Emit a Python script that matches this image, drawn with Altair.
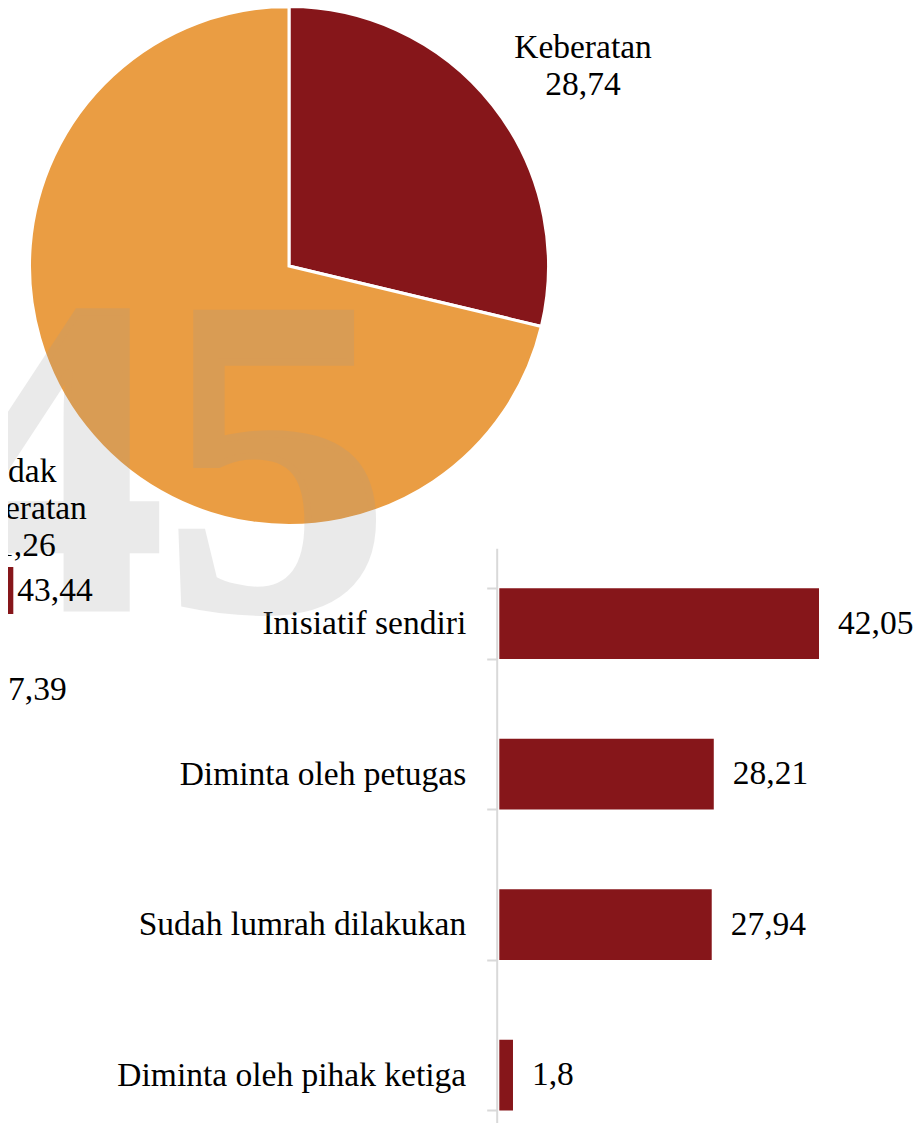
import altair as alt
import pandas as pd

# ---- data ----
pie_categories = ["Keberatan", "Tidak Keberatan"]
pie_values = [28.74, 71.26]
pie_colors = ["#86161A", "#EA9D43"]

bar_categories = ["Inisiatif sendiri", "Diminta oleh petugas",
                  "Sudah lumrah dilakukan", "Diminta oleh pihak ketiga"]
bar_values = [42.05, 28.21, 27.94, 1.8]

left_rows = [1, 2]
left_values = [43.44, 7.39]

watermark_text = ["45"]

RED = "#86161A"
FONT = "Liberation Serif"
FS = 33.5


def fmt(v):
    return str(v).replace(".", ",")


pie_df = pd.DataFrame({"kategori": pie_categories, "nilai": pie_values,
                       "urut": list(range(len(pie_values)))})
bar_df = pd.DataFrame({"alasan": bar_categories, "nilai": bar_values,
                       "label": [fmt(v) for v in bar_values]})
left_df = pd.DataFrame({"baris": left_rows, "nilai": left_values,
                        "label": [fmt(v) for v in left_values]})
wm_df = pd.DataFrame({"t": watermark_text})
lab_df = pd.DataFrame({
    "kategori": pie_categories,
    "teks": [pie_categories[0] + "\n" + fmt(pie_values[0]),
             "Tidak\nKeberatan\n" + fmt(pie_values[1])],
})

# ---- pie ----
pie = alt.Chart(pie_df).mark_arc(radius=259.5, stroke="white", strokeWidth=3).encode(
    theta=alt.Theta("nilai:Q", stack=True),
    color=alt.Color("kategori:N", scale=alt.Scale(domain=pie_categories, range=pie_colors), legend=None),
    order=alt.Order("urut:Q"),
    x=alt.value(281),
    y=alt.value(258),
)

# ---- left (cut-off) bar chart ----
lx = alt.X("nilai:Q", scale=alt.Scale(domain=[0, 50], range=[-5.9, 7.0]), axis=None)
ly = alt.Y("baris:O", scale=alt.Scale(domain=left_rows, range=[533, 731],
                                      paddingInner=0.525, paddingOuter=0.2626), axis=None)
left_bars = alt.Chart(left_df).mark_bar(color=RED).encode(x=lx, y=ly)
left_text = alt.Chart(left_df).mark_text(align="left", baseline="middle", dx=4,
                                         font=FONT, fontSize=FS, color="black").encode(
    x=lx, y=ly, text="label:N")

# ---- main bar chart ----
mx = alt.X("nilai:Q", scale=alt.Scale(domain=[0, 50], range=[491.3, 871.45]), axis=None)
yscale = alt.Scale(domain=bar_categories, range=[540.3, 1142.3],
                   paddingInner=0.53, paddingOuter=0.265)
my_axis = alt.Y("alasan:N", sort=bar_categories, scale=yscale,
                axis=alt.Axis(orient="left", offset=-488.7, title=None, tickBand="extent",
                              tickSize=10, tickColor="#d9d9d9", tickWidth=2,
                              domainColor="#d9d9d9", domainWidth=2,
                              labelFont=FONT, labelFontSize=FS, labelColor="black",
                              labelPadding=21, labelLimit=0, grid=False))
my = alt.Y("alasan:N", sort=bar_categories, scale=yscale, axis=None)
main_bars = alt.Chart(bar_df).mark_bar(color=RED).encode(x=mx, y=my_axis)
main_text = alt.Chart(bar_df).mark_text(align="left", baseline="middle", dx=19,
                                        font=FONT, fontSize=FS, color="black").encode(
    x=mx, y=my, text="label:N")

# ---- watermark ----
wm = alt.Chart(wm_df).mark_text(font=FONT, fontWeight="bold", fontSize=450, fill="#999999",
                                stroke="#999999", strokeWidth=7, strokeJoin="miter",
                                opacity=0.2, align="center", baseline="alphabetic").encode(
    text="t:N", x=alt.value(156), y=alt.value(600))

# ---- pie labels ----
lab1 = alt.Chart(lab_df).transform_filter(alt.datum.kategori == pie_categories[0]).mark_text(
    align="center", baseline="alphabetic", lineBreak="\n", lineHeight=37,
    font=FONT, fontSize=FS, color="black").encode(
    text="teks:N", x=alt.value(575), y=alt.value(50.3))
lab2 = alt.Chart(lab_df).transform_filter(alt.datum.kategori == pie_categories[1]).mark_text(
    align="center", baseline="alphabetic", lineBreak="\n", lineHeight=37,
    font=FONT, fontSize=FS, color="black").encode(
    text="teks:N", x=alt.value(10), y=alt.value(473.7))

chart = alt.layer(
    pie, left_bars, main_bars, wm, left_text, main_text, lab1, lab2
).resolve_scale(
    x="independent", y="independent"
).properties(
    width=907, height=1115,
    autosize=alt.AutoSizeParams(type="none"),
    padding=0,
    background="white",
).configure_view(stroke=None)

chart.save("out.html", embed_options={"renderer": "svg", "actions": False})
